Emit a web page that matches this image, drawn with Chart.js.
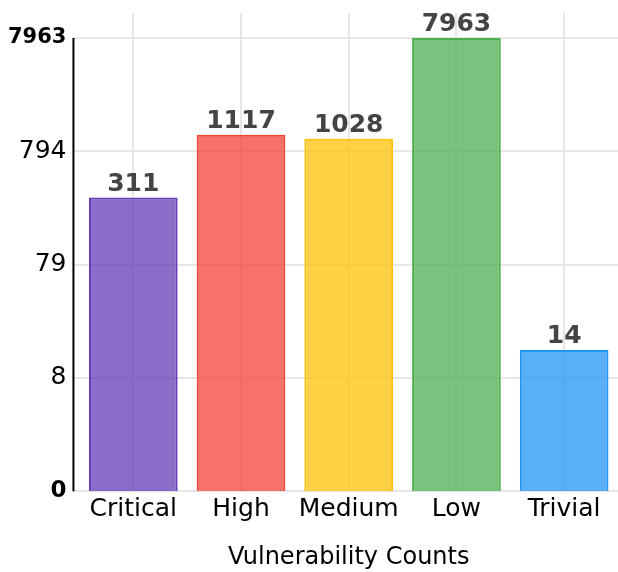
<!DOCTYPE html>
<html>
<head>
<meta charset="utf-8">
<script src="https://cdn.jsdelivr.net/npm/chart.js@4.4.1/dist/chart.umd.min.js"></script>
<style>
    body { margin: 0; background: #ffffff; }
    #chartBox { width: 618px; height: 572px; }
</style>
</head>
<body>
<div id="chartBox"><canvas id="vulnChart" width="618" height="572"></canvas></div>
<script>
// Vulnerability counts per severity (log scale)
const categories = ['Critical', 'High', 'Medium', 'Low', 'Trivial'];
const counts = [311, 1117, 1028, 7963, 14];
const yTickValues = [0.794, 7.94, 79.4, 794, 7963];
const yTickLabels = ['0', '8', '79', '794', '7963'];
const yAxisMax = 13250;

const fillColors = [
    'rgba(103, 58, 183, 0.75)',
    'rgba(244, 67, 54, 0.75)',
    'rgba(255, 193, 7, 0.75)',
    'rgba(76, 175, 80, 0.75)',
    'rgba(33, 150, 243, 0.75)'
];
const borderColors = ['#673ab7', '#f44336', '#ffc107', '#4caf50', '#2196f3'];

const gridColor = '#e6e6e6';
const tickLen = 6;

Chart.defaults.font.family = "'DejaVu Sans', sans-serif";
Chart.defaults.color = '#000000';

// value labels above each bar
const barValueLabels = {
    id: 'barValueLabels',
    afterDatasetsDraw(chart) {
        const ctx = chart.ctx;
        const meta = chart.getDatasetMeta(0);
        ctx.save();
        ctx.font = "bold 25px 'DejaVu Sans', sans-serif";
        ctx.fillStyle = '#444444';
        ctx.textAlign = 'center';
        ctx.textBaseline = 'alphabetic';
        meta.data.forEach((bar, i) => {
            ctx.fillText(String(counts[i]), bar.x, bar.y - 7);
        });
        ctx.restore();
    }
};

// black y axis line, from the top tick down to zero
const yAxisLine = {
    id: 'yAxisLine',
    afterDraw(chart) {
        const ctx = chart.ctx;
        const y = chart.scales.y;
        const x = chart.chartArea.left - tickLen;
        ctx.save();
        ctx.strokeStyle = '#000000';
        ctx.lineWidth = 2;
        ctx.beginPath();
        ctx.moveTo(x, y.getPixelForValue(yTickValues[yTickValues.length - 1]));
        ctx.lineTo(x, chart.chartArea.bottom);
        ctx.stroke();
        ctx.restore();
    }
};

new Chart(document.getElementById('vulnChart'), {
    type: 'bar',
    data: {
        labels: categories,
        datasets: [{
            data: counts,
            backgroundColor: fillColors,
            borderColor: borderColors,
            borderWidth: 2,
            categoryPercentage: 0.9,
            barPercentage: 0.915
        }]
    },
    options: {
        responsive: false,
        animation: false,
        layout: {
            padding: { left: 1, right: 0, top: 13, bottom: 0 }
        },
        plugins: {
            legend: { display: false },
            tooltip: { enabled: false }
        },
        scales: {
            x: {
                grid: {
                    offset: false,
                    color: gridColor,
                    lineWidth: 2,
                    drawTicks: false
                },
                border: { display: false },
                ticks: {
                    padding: 3,
                    color: '#000000',
                    font: { size: 25 }
                },
                title: {
                    display: true,
                    text: 'Vulnerability Counts',
                    color: '#000000',
                    font: { size: 24 },
                    padding: { top: 16, bottom: 0 }
                }
            },
            y: {
                type: 'logarithmic',
                min: yTickValues[0],
                max: yAxisMax,
                afterBuildTicks(scale) {
                    scale.ticks = yTickValues.map(v => ({ value: v }));
                },
                afterFit(scale) {
                    // let the layout padding decide the top of the plot
                    scale.paddingTop = 0;
                    scale.paddingBottom = 0;
                },
                grid: {
                    color: gridColor,
                    lineWidth: 2,
                    tickLength: tickLen
                },
                border: { display: false },
                ticks: {
                    padding: 7,
                    color: '#000000',
                    autoSkip: false,
                    callback: function(value, index) {
                        return yTickLabels[index];
                    },
                    font: function(c) {
                        const i = c.index;
                        if (i === yTickValues.length - 1) return { size: 21, weight: 'bold' };
                        if (i === 0) return { size: 23, weight: 'bold' };
                        return { size: 25 };
                    }
                }
            }
        }
    },
    plugins: [barValueLabels, yAxisLine]
});
</script>
</body>
</html>
